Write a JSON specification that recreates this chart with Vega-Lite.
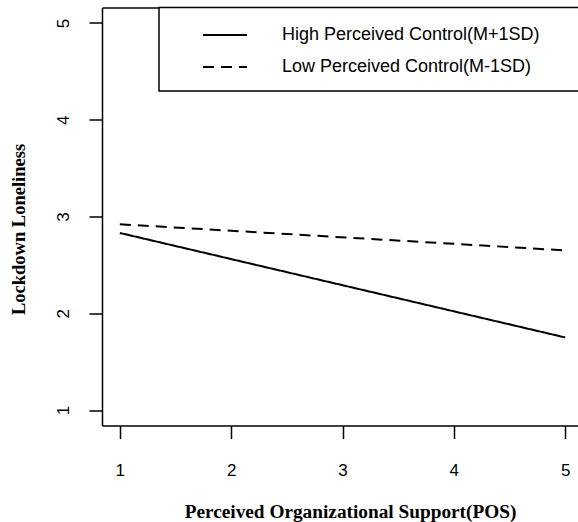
{
  "$schema": "https://vega.github.io/schema/vega-lite/v6.json",
  "width": 476,
  "height": 418,
  "autosize": "none",
  "padding": {"left": 102, "top": 7.5, "right": 0, "bottom": 96.5},
  "background": "white",
  "config": {"view": {"stroke": null}, "font": "Liberation Sans"},
  "layer": [
    {
      "data": {"values": [{"box": "legend"}]},
      "mark": {"type": "rect", "fill": "white", "stroke": "black", "strokeWidth": 1.5},
      "encoding": {
        "x": {"datum": 1.352, "type": "quantitative",
          "scale": {"domain": [0.84, 5.115], "nice": false, "zero": false},
          "axis": {"orient": "top", "ticks": false, "labels": false, "grid": false, "title": null, "domainColor": "black", "domainWidth": 1.5}},
        "x2": {"datum": 5.4},
        "y": {"datum": 4.297, "type": "quantitative",
          "scale": {"domain": [0.84, 5.16], "nice": false, "zero": false},
          "axis": {"orient": "left", "values": [1, 2, 3, 4, 5], "grid": false,
            "domainColor": "black", "domainWidth": 1.5, "tickColor": "black", "tickWidth": 1.5, "tickSize": 13,
            "labelFont": "Liberation Sans", "labelFontSize": 17, "labelColor": "black", "labelPadding": 21,
            "labelAngle": -90, "labelAlign": "center", "labelBaseline": "alphabetic",
            "labelFlush": false, "labelOverlap": false,
            "title": "Lockdown Loneliness", "titleFont": "Liberation Serif", "titleFontWeight": "bold",
            "titleFontSize": 18.5, "titleColor": "black", "titleAngle": -90, "titleX": -84, "titleY": 221.5,
            "titleBaseline": "middle", "titleAlign": "center"}},
        "y2": {"datum": 5.16}
      }
    },
    {
      "data": {"values": [
        {"pos": 1, "loneliness": 2.83, "group": "High Perceived Control(M+1SD)"},
        {"pos": 5, "loneliness": 1.75, "group": "High Perceived Control(M+1SD)"},
        {"pos": 1, "loneliness": 2.92, "group": "Low Perceived Control(M-1SD)"},
        {"pos": 5, "loneliness": 2.65, "group": "Low Perceived Control(M-1SD)"}
      ]},
      "mark": {"type": "line", "color": "black", "strokeWidth": 2},
      "encoding": {
        "x": {"field": "pos", "type": "quantitative",
          "scale": {"domain": [0.84, 5.115], "nice": false, "zero": false},
          "axis": {"orient": "bottom", "values": [1, 2, 3, 4, 5], "grid": false,
            "domainColor": "black", "domainWidth": 1.5, "tickColor": "black", "tickWidth": 1.5, "tickSize": 13,
            "labelFont": "Liberation Sans", "labelFontSize": 17, "labelColor": "black", "labelPadding": 24,
            "labelFlush": false, "labelOverlap": false,
            "title": "Perceived Organizational Support(POS)", "titleFont": "Liberation Serif", "titleFontWeight": "bold",
            "titleFontSize": 19.3, "titleColor": "black", "titleX": 248, "titleY": 91.5, "titleBaseline": "alphabetic", "titleAlign": "center"}},
        "y": {"field": "loneliness", "type": "quantitative",
          "scale": {"domain": [0.84, 5.16], "nice": false, "zero": false},
          "axis": {"orient": "left", "values": [1, 2, 3, 4, 5], "grid": false,
            "domainColor": "black", "domainWidth": 1.5, "tickColor": "black", "tickWidth": 1.5, "tickSize": 13,
            "labelFont": "Liberation Sans", "labelFontSize": 17, "labelColor": "black", "labelPadding": 21,
            "labelAngle": -90, "labelAlign": "center", "labelBaseline": "alphabetic",
            "labelFlush": false, "labelOverlap": false,
            "title": "Lockdown Loneliness", "titleFont": "Liberation Serif", "titleFontWeight": "bold",
            "titleFontSize": 18.5, "titleColor": "black", "titleAngle": -90, "titleX": -84, "titleY": 221.5,
            "titleBaseline": "middle", "titleAlign": "center"}},
        "strokeDash": {"field": "group", "type": "nominal",
          "scale": {"domain": ["High Perceived Control(M+1SD)", "Low Perceived Control(M-1SD)"], "range": [[1, 0], [11, 7]]},
          "legend": {"orient": "none", "legendX": 100, "legendY": 4.5, "title": null,
            "symbolType": "stroke", "symbolSize": 1936, "symbolStrokeWidth": 2, "symbolStrokeColor": "black",
            "labelFont": "Liberation Sans", "labelFontSize": 18, "labelColor": "black", "labelOffset": 34,
            "rowPadding": -12, "padding": 0, "labelLimit": 0,
            "encode": {"symbols": {"update": {"strokeDash": {"signal": "datum.value === 'Low Perceived Control(M-1SD)' ? [8, 4] : [1, 0]"}}}}}}
      }
    }
  ]
}
